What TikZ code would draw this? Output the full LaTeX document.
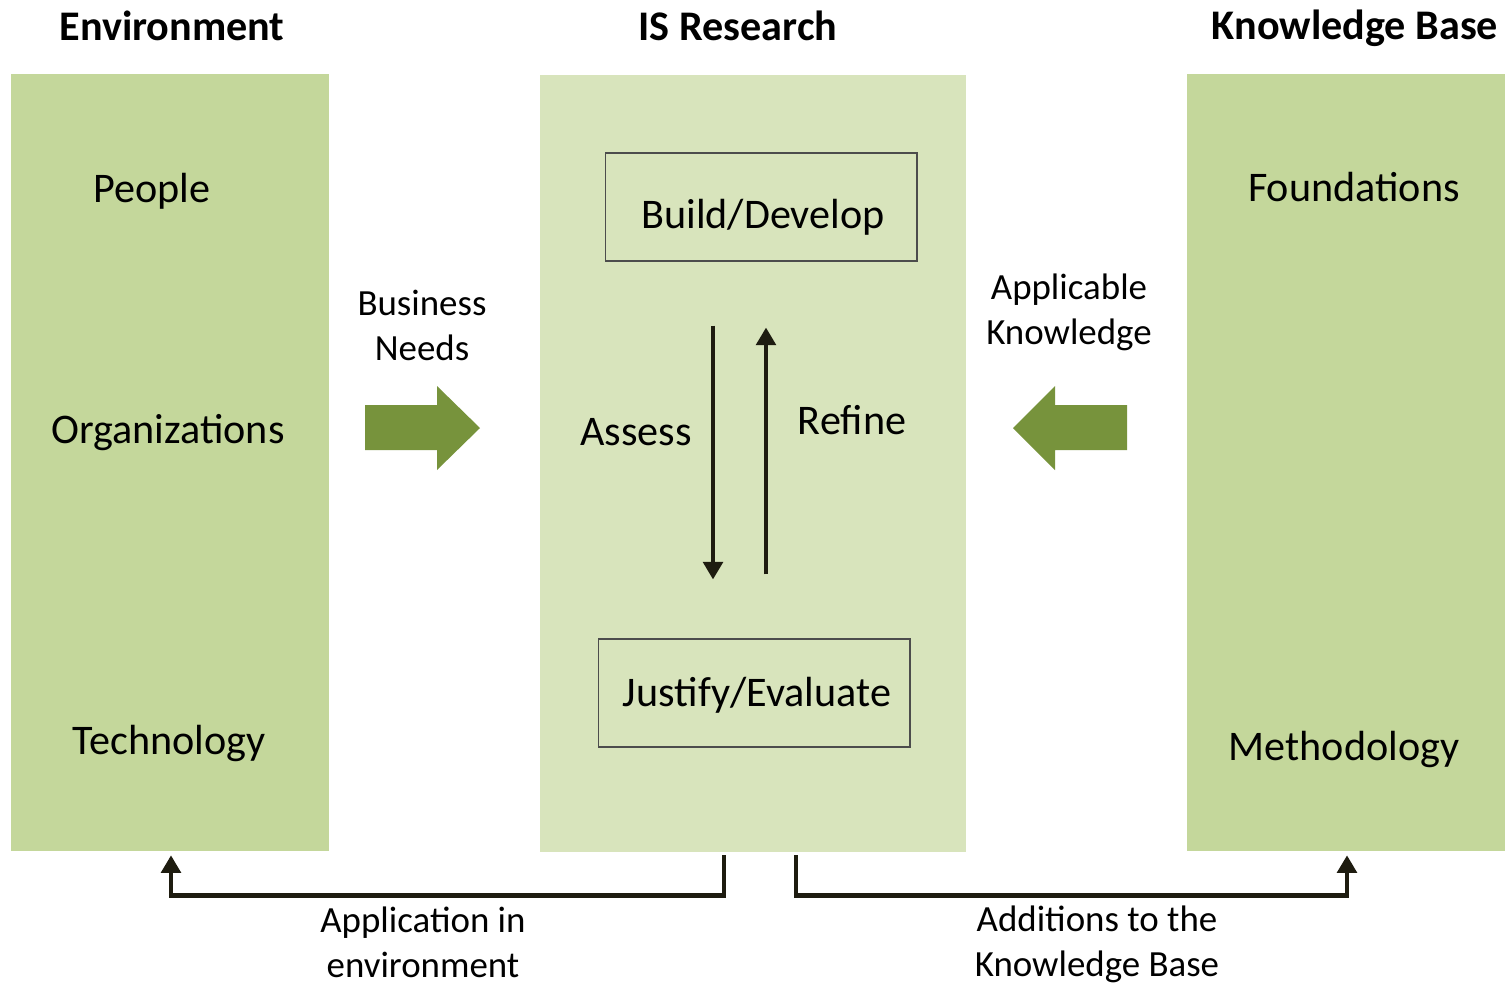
\documentclass[tikz,border=0pt]{standalone}
\usepackage{fontspec}
\setmainfont{Carlito}
\usetikzlibrary{calc}
\usetikzlibrary{arrows.meta}
\definecolor{sidegreen}{HTML}{C4D79B}
\definecolor{midgreen}{HTML}{D8E4BC}
\definecolor{arrowgreen}{HTML}{77933C}
\definecolor{linedark}{HTML}{1E1C10}

\tikzset{
	head/.style={font=\fontsize{24}{28}\selectfont\bfseries},
	big/.style={font=\fontsize{24}{28}\selectfont},
	small/.style={font=\fontsize{21}{25.6}\selectfont, align=center},
	column/.style={inner sep=0pt, minimum width=6.36cm, minimum height=15.54cm},
	actbox/.style={draw=black!70, line width=0.6pt, minimum width=6.24cm, minimum height=2.16cm},
	conn/.style={draw=linedark, line width=2.6pt, -{Triangle[length=10pt,width=11pt]}},
	blockarrow/.style={fill=arrowgreen}
}

\begin{document}
\begin{tikzpicture}[x=0.02cm, y=-0.02cm]
	\useasboundingbox (0,0) rectangle (1505,985);

	\node[column, fill=sidegreen] (env) at (170,462.5) {};
	\node[column, fill=midgreen, minimum width=8.52cm] (isr) at (753,463.5) {};
	\node[column, fill=sidegreen] (kb) at (1346,462.5) {};

	\node[head] (envtitle) at (172,26) {Environment};
	\node[head] (isrtitle) at (738,26) {IS Research};
	\node[head] (kbtitle) at (1355,28) {Knowledge Base};

	\node[big] (people) at (152,191) {People};
	\node[big] (orgs) at (168,433) {Organizations};
	\node[big] (tech) at (169,743) {Technology};
	\node[big] (found) at (1354,187) {Foundations};
	\node[big] (method) at (1344,749) {Methodology};

	\node[actbox] (build) at (761,207) {};
	\node[big] (buildtext) at (763,217) {Build/Develop};
	\node[actbox] (justify) at (754,693) {};
	\node[big] (justifytext) at (757,695) {Justify/Evaluate};
	\node[big] (assess) at (636,432) {Assess};
	\node[big] (refine) at (852,420) {Refine};

	\draw[conn] ($(build.south)+(-48,64)$) -- ($(justify.north)+(-41,-59)$);
	\draw[conn] ($(justify.north)+(12,-64)$) -- ($(build.south)+(5,66)$);

	\node[small] (needs) at (422,325) {Business\\Needs};
	\node[small] (applic) at (1069,312) {Applicable\\Knowledge};

	\fill[blockarrow] (365,405) -- (437,405) -- (437,386) -- (480,428) -- (437,470) -- (437,450) -- (365,450) -- cycle;
	\fill[blockarrow] (1127,405) -- (1055,405) -- (1055,386) -- (1013,428) -- (1055,470) -- (1055,450) -- (1127,450) -- cycle;

	\draw[conn] ($(isr.south)+(-29,3)$) |- ($(env.south)+(1,44)$) -- ($(env.south)+(1,4)$);
	\draw[conn] ($(isr.south)+(43,3)$) |- ($(kb.south)+(1,44)$) -- ($(kb.south)+(1,4)$);

	\node[small] (appenv) at (423,942) {Application in\\environment};
	\node[small] (addkb) at (1097,944) {Additions to the\\Knowledge Base};
\end{tikzpicture}
\end{document}
